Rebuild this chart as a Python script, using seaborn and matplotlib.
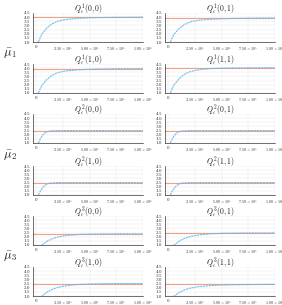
import numpy as np
import pandas as pd
import matplotlib
matplotlib.use("Agg")
import matplotlib.pyplot as plt
import seaborn as sns

sns.set_theme(style="whitegrid")
plt.rcParams["mathtext.fontset"] = "cm"
plt.rcParams["font.family"] = ["DejaVu Serif"]

# Data ---------------------------------------------------------------
steps = [0.02e6, 0.05e6, 0.1e6, 0.15e6, 0.2e6, 0.25e6, 0.3e6, 0.4e6, 0.5e6, 0.6e6, 0.75e6, 0.9e6, 1.0e6]
steps_fast = [0.02e6, 0.04e6, 0.06e6, 0.08e6, 0.1e6, 0.12e6, 0.15e6, 0.2e6, 0.3e6, 0.5e6, 0.75e6, 1.0e6]
steps_slow = [0.05e6, 0.08e6, 0.1e6, 0.15e6, 0.2e6, 0.25e6, 0.3e6, 0.4e6, 0.5e6, 0.6e6, 0.75e6, 0.9e6, 1.0e6]

mu1_target = {"00": 4.0, "01": 3.9, "10": 3.95, "11": 4.05}
mu1_q00 = [1.0, 1.9, 2.7, 3.2, 3.5, 3.65, 3.75, 3.86, 3.92, 3.95, 3.98, 3.99, 4.0]
mu1_q01 = [1.0, 1.85, 2.6, 3.1, 3.4, 3.55, 3.65, 3.75, 3.8, 3.84, 3.87, 3.89, 3.9]
mu1_q10 = [1.0, 1.85, 2.65, 3.15, 3.45, 3.6, 3.7, 3.8, 3.86, 3.9, 3.93, 3.94, 3.95]
mu1_q11 = [1.0, 1.9, 2.7, 3.25, 3.55, 3.72, 3.83, 3.95, 4.0, 4.02, 4.04, 4.05, 4.05]

mu2_target = {"00": 2.5, "01": 2.5, "10": 2.5, "11": 2.5}
mu2_q00 = [1.0, 1.55, 1.95, 2.2, 2.35, 2.43, 2.48, 2.5, 2.5, 2.5, 2.5, 2.5]
mu2_q01 = [1.0, 1.55, 1.95, 2.2, 2.35, 2.43, 2.48, 2.5, 2.5, 2.5, 2.5, 2.5]
mu2_q10 = [1.0, 1.5, 1.9, 2.15, 2.3, 2.4, 2.46, 2.5, 2.5, 2.5, 2.5, 2.5]
mu2_q11 = [1.0, 1.5, 1.9, 2.15, 2.3, 2.4, 2.46, 2.5, 2.5, 2.5, 2.5, 2.5]

mu3_target = {"00": 2.35, "01": 2.45, "10": 2.5, "11": 2.4}
mu3_q00 = [0.95, 1.25, 1.45, 1.75, 1.95, 2.08, 2.17, 2.27, 2.31, 2.33, 2.35, 2.35, 2.35]
mu3_q01 = [0.95, 1.25, 1.45, 1.78, 2.0, 2.14, 2.24, 2.35, 2.41, 2.43, 2.45, 2.45, 2.45]
mu3_q10 = [0.95, 1.25, 1.45, 1.8, 2.03, 2.17, 2.27, 2.39, 2.45, 2.48, 2.5, 2.5, 2.5]
mu3_q11 = [0.95, 1.22, 1.4, 1.72, 1.93, 2.06, 2.15, 2.26, 2.32, 2.35, 2.38, 2.4, 2.4]

xtick_vals = [0, 2.5e5, 5.0e5, 7.5e5, 1.0e6]
xtick_labels = ["0", r"$2.50\times10^5$", r"$5.00\times10^5$", r"$7.50\times10^5$", r"$1.00\times10^6$"]
ytick_vals = [1.0, 1.5, 2.0, 2.5, 3.0, 3.5, 4.0, 4.5]
ytick_labels = ["1.0", "1.5", "2.0", "2.5", "3.0", "3.5", "4.0", "4.5"]

pairs = ["00", "01", "10", "11"]
pair_txt = {"00": "(0,0)", "01": "(0,1)", "10": "(1,0)", "11": "(1,1)"}

groups = [
    (1, steps, {"00": mu1_q00, "01": mu1_q01, "10": mu1_q10, "11": mu1_q11}, mu1_target),
    (2, steps_fast, {"00": mu2_q00, "01": mu2_q01, "10": mu2_q10, "11": mu2_q11}, mu2_target),
    (3, steps_slow, {"00": mu3_q00, "01": mu3_q01, "10": mu3_q10, "11": mu3_q11}, mu3_target),
]

blue = "#5fb6ef"
orange = "#f0987a"

W, H = 282, 305
fig = plt.figure(figsize=(W / 100, H / 100), dpi=100)

col_left = [33, 165]
ax_w = 110
ax_h = 29
row_tops = [13, 64, 114, 166, 216, 267]

for gi, (k, xs, qs, tg) in enumerate(groups):
    for pi, p in enumerate(pairs):
        r = gi * 2 + pi // 2
        c = pi % 2
        left = col_left[c] / W
        bottom = 1 - (row_tops[r] + ax_h) / H
        ax = fig.add_axes([left, bottom, ax_w / W, ax_h / H])
        df = pd.DataFrame({"step": xs, "Q": qs[p]})
        ax.axhline(tg[p], color=orange, lw=0.8, alpha=0.9)
        sns.lineplot(data=df, x="step", y="Q", ax=ax, color=blue, lw=0.8,
                     linestyle=(0, (2, 0.6)), alpha=0.9)
        ax.set_xlim(-0.03e6, 1.0e6)
        ax.set_ylim(1.0, 4.5)
        ax.set_xticks(xtick_vals)
        ax.set_xticklabels(xtick_labels)
        ax.set_yticks(ytick_vals)
        ax.set_yticklabels(ytick_labels)
        ax.tick_params(axis="both", labelsize=3.0, length=1.2, width=0.3, pad=1,
                       colors="#333333")
        ax.set_xlabel("")
        ax.set_ylabel("")
        ax.grid(True, color="#e6e6e6", lw=0.3)
        for s in ["top", "right"]:
            ax.spines[s].set_visible(False)
        for s in ["left", "bottom"]:
            ax.spines[s].set_visible(True)
            ax.spines[s].set_color("black")
            ax.spines[s].set_linewidth(0.4)
        ax.set_title(rf"$Q^{{{k}}}_t{pair_txt[p]}$", fontsize=5.5, pad=0.8)
    ymid = (row_tops[gi * 2] + ax_h + row_tops[gi * 2 + 1]) / 2
    fig.text(10 / W, 1 - ymid / H, rf"$\bar{{\mu}}_{k}$", fontsize=9,
             ha="center", va="center")

fig.savefig("out.png", dpi=100)
